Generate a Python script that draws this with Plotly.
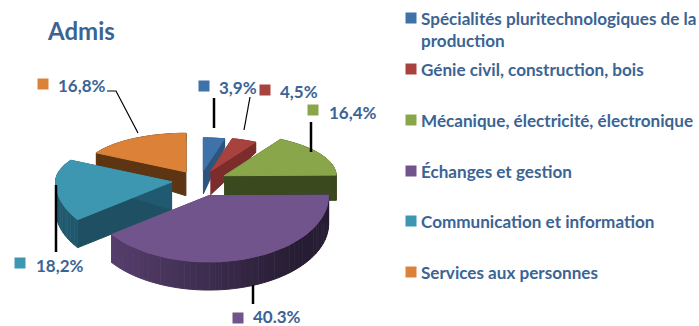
import math
import plotly.graph_objects as go

# ---------- data ----------
categories = ["Spécialités pluritechnologiques de la<br>production",
              "Génie civil, construction, bois",
              "Mécanique, électricité, électronique",
              "Échanges et gestion",
              "Communication et information",
              "Services aux personnes"]
values = [3.9, 4.5, 16.4, 40.3, 18.2, 16.8]
value_labels = ["3,9%", "4,5%", "16,4%", "40.3%", "18,2%", "16,8%"]
title_text = "Admis"

# ---------- style ----------
colors = ["#3f72a8", "#a8423f", "#8aa64b", "#71548c", "#3d97b0", "#dc8238"]
wall_left = ["#2c5480", "#7c2d2b", "#3b4a1e", "#5f4577", "#1f5a70", "#5e3513"]
wall_right = ["#2c5480", "#7c2d2b", "#3b4a1e", "#261c33", "#1f4f62", "#5e3513"]
text_color = "#3b6494"
FONT = "Lato"
W, H = 699, 326
CX, CY = 200, 181       # pie centre
A, B_UP, B_DOWN = 112, 42, 62   # ellipse radii (foreshortened at the back)
PULL = 0.25
radius_scale = [0.78, 0.80, 1.0, 1.07, 1.04, 0.92]
start_deg = 0.0
draw_order = [5, 0, 1, 2, 4, 3]

label_pos = [(217, 87), (278, 91), (327, 112), (251, 316), (34, 265), (56, 85)]
square_pos = [(204, 86), (265, 90), (313, 110), (238, 318), (20, 263), (43, 84)]
legend_y = [18, 69, 120, 171, 221, 272]
legend_sq_x, legend_txt_x = 411, 419
leaders = [([214, 214], [98, 128], 2.5), ([250, 244], [97, 130], 1.2),
           ([311, 311], [122, 152], 2.5), ([253, 253], [285, 304], 2.5),
           ([56, 56], [185, 252], 2.5), ([107, 116, 138], [91, 91, 133], 1.2)]


def depth(y):
    # walls look shorter towards the back of the pie
    return max(8.0, min(28.0, 13 + (y - 148) * 0.45))


def ell(theta_deg, scale=1.0):
    t = math.radians(theta_deg)
    c = math.cos(t)
    return (A * scale * math.sin(t), -(B_UP if c > 0 else B_DOWN) * scale * c)


def mix(c1, c2, f):
    a = [int(c1[i:i + 2], 16) for i in (1, 3, 5)]
    b = [int(c2[i:i + 2], 16) for i in (1, 3, 5)]
    return "#%02x%02x%02x" % tuple(round(p + (q - p) * f) for p, q in zip(a, b))


def poly(xs, ys, color):
    return go.Scatter(x=xs, y=ys, mode="lines", fill="toself", fillcolor=color,
                      line=dict(width=1, color=color), hoverinfo="skip")


fig = go.Figure()
total = sum(values)
spans = [v / total * 360 for v in values]
starts = [start_deg + sum(spans[:i]) for i in range(len(values))]

for i in draw_order:
    s, e = starts[i], starts[i] + spans[i]
    mid = (s + e) / 2
    dx, dy = ell(mid, PULL)
    ax, ay = CX + dx, CY + dy
    n = max(4, int(spans[i] / 3))
    angs = [s + (e - s) * k / n for k in range(n + 1)]
    pts = [(ax + ell(a, radius_scale[i])[0], ay + ell(a, radius_scale[i])[1]) for a in angs]
    # flat walls
    for p in (pts[0], pts[-1]):
        fig.add_trace(poly([ax, p[0], p[0], ax],
                           [ay, p[1], p[1] + depth(p[1]), ay + depth(ay)],
                           wall_right[i] if p is pts[0] else wall_left[i]))
    # curved wall, shaded by horizontal position
    for k in range(n):
        p, q = pts[k], pts[k + 1]
        f = 1 - max(0.0, min(1.0, (p[0] - ax + 130) / 220))
        fig.add_trace(poly([p[0], q[0], q[0], p[0]],
                           [p[1], q[1], q[1] + depth(q[1]), p[1] + depth(p[1])],
                           mix(wall_right[i], wall_left[i], f)))
    # top face
    fig.add_trace(poly([ax] + [p[0] for p in pts] + [ax], [ay] + [p[1] for p in pts] + [ay], colors[i]))

# leader lines
for xs, ys, w in leaders:
    fig.add_trace(go.Scatter(x=xs, y=ys, mode="lines", line=dict(color="black", width=w), hoverinfo="skip"))

# colour keys
fig.add_trace(go.Scatter(x=[p[0] for p in square_pos], y=[p[1] for p in square_pos], mode="markers",
                         marker=dict(symbol="square", size=11, color=colors), hoverinfo="skip"))
fig.add_trace(go.Scatter(x=[legend_sq_x] * 6, y=legend_y, mode="markers",
                         marker=dict(symbol="square", size=11, color=colors), hoverinfo="skip"))

ann = [dict(x=45, y=30, text=f"<b>{title_text}</b>", font=dict(size=24, color=text_color, family=FONT),
            xanchor="left", yanchor="middle", showarrow=False, xref="x", yref="y")]
for (x, y), t in zip(label_pos, value_labels):
    ann.append(dict(x=x, y=y, text=f"<b>{t}</b>", font=dict(size=17, color=text_color, family=FONT),
                    xanchor="left", yanchor="middle", showarrow=False, xref="x", yref="y"))
for y, t, c in zip(legend_y, categories, range(6)):
    yy = y + 11 if "<br>" in t else y
    ann.append(dict(x=legend_txt_x, y=yy, text="<b>" + t + "</b>", align="left", font=dict(size=17.1, color=text_color, family=FONT),
                    xanchor="left", yanchor="middle", showarrow=False, xref="x", yref="y"))

fig.update_layout(width=W, height=H, margin=dict(l=0, r=0, t=0, b=0), showlegend=False,
                  paper_bgcolor="white", plot_bgcolor="white", annotations=ann,
                  xaxis=dict(range=[0, W], visible=False, fixedrange=True),
                  yaxis=dict(range=[H, 0], visible=False, fixedrange=True))
fig.write_html("out.html", config={"displayModeBar": False},
               post_script="document.body.style.margin='0';")
